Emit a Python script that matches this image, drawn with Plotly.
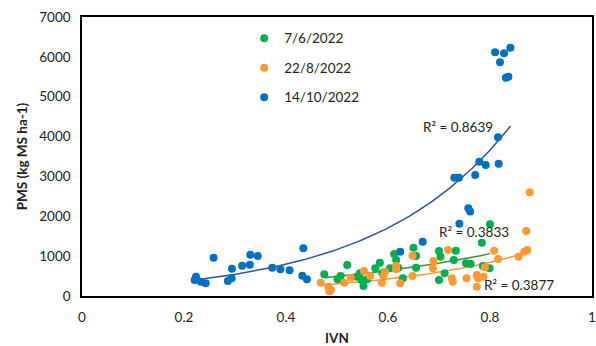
import numpy as np
import plotly.graph_objects as go

# ---- data ----
green_x = [0.475, 0.501, 0.507, 0.520, 0.539, 0.545, 0.548, 0.552, 0.559, 0.575, 0.584, 0.589,
           0.604, 0.612, 0.616, 0.620, 0.629, 0.650, 0.655, 0.655, 0.700, 0.703, 0.711, 0.700,
           0.733, 0.729, 0.753, 0.762, 0.786, 0.799, 0.784, 0.800]
green_y = [544, 419, 502, 780, 480, 570, 400, 250, 420, 695, 835, 570,
           695, 1054, 903, 710, 443, 1212, 1004, 710, 1129, 985, 570, 400,
           1137, 903, 820, 803, 753, 695, 1337, 1799]

orange_x = [0.468, 0.483, 0.488, 0.485, 0.514, 0.527, 0.553, 0.565, 0.588, 0.594, 0.591, 0.616,
            0.616, 0.624, 0.648, 0.648, 0.689, 0.688, 0.718, 0.725, 0.727, 0.754, 0.774, 0.777,
            0.774, 0.787, 0.790, 0.808, 0.816, 0.856, 0.867, 0.873, 0.871, 0.878]
orange_y = [334, 233, 150, 120, 334, 459, 627, 502, 334, 610, 502, 760,
            670, 319, 1011, 502, 878, 695, 1154, 444, 359, 444, 527, 444,
            233, 484, 720, 1137, 928, 986, 1111, 1154, 1631, 2602]

blue_x = [0.221, 0.2235, 0.233, 0.2425, 0.258, 0.286, 0.2935, 0.294, 0.314, 0.329, 0.330, 0.3445,
          0.373, 0.389, 0.407, 0.434, 0.432, 0.441, 0.624, 0.668, 0.740, 0.7575, 0.761, 0.730,
          0.739, 0.771, 0.779, 0.7916, 0.817, 0.8157, 0.810, 0.8275, 0.840, 0.8196, 0.831, 0.836]
blue_y = [401, 484, 359, 318, 961, 376, 444, 685, 760, 785, 1036, 1003,
          710, 670, 645, 1197, 509, 419, 1112, 1358, 1810, 2200, 2120, 2968,
          2968, 3036, 3370, 3287, 3320, 3981, 6114, 6088, 6230, 5863, 5477, 5503]

series_names = ["7/6/2022", "22/8/2022", "14/10/2022"]
r2_labels = ["R² = 0.3833", "R² = 0.3877", "R² = 0.8639"]
x_ticks = [0, 0.2, 0.4, 0.6, 0.8, 1]
x_tick_labels = ["0", "0.2", "0.4", "0.6", "0.8", "1"]
y_ticks = [0, 1000, 2000, 3000, 4000, 5000, 6000, 7000]

FONT = "Lato, 'Liberation Sans', sans-serif"
colors = ["#00B050", "#FF9933", "#0070C0"]
line_colors = ["#4E8A30", "#FF9933", "#2F52A0"]
# label anchor positions (data coords)
r2_pos = [(0.769, 1606), (0.857, 276), (0.738, 4240)]

fig = go.Figure()
series = [(green_x, green_y), (orange_x, orange_y), (blue_x, blue_y)]

# trendlines (Excel-style exponential fit)
for i, (xs, ys) in enumerate(series):
    xa = np.array(xs)
    ya = np.array(ys)
    b, lna = np.polyfit(xa, np.log(ya), 1)
    xx = np.linspace(xa.min(), xa.max(), 120)
    fig.add_trace(go.Scatter(x=xx, y=np.exp(lna) * np.exp(b * xx), mode="lines",
                             line=dict(color=line_colors[i], width=1.5),
                             showlegend=False, hoverinfo="skip"))

for i, (xs, ys) in enumerate(series):
    fig.add_trace(go.Scatter(x=xs, y=ys, mode="markers", name=series_names[i],
                             legendgroup=series_names[i],
                             marker=dict(color=colors[i], size=8)))

for i, (px, py) in enumerate(r2_pos):
    fig.add_annotation(x=px, y=py, text=r2_labels[i], showarrow=False,
                       font=dict(family=FONT, size=13.5, color="#222222"))

axis_common = dict(showline=True, linecolor="black", linewidth=1.5, mirror=True,
                   showgrid=False, zeroline=False, ticks="", automargin=False,
                   tickfont=dict(family=FONT, size=13.5, color="#222222"))

fig.update_layout(
    width=596, height=346,
    margin=dict(l=82, r=4, t=17, b=50),
    paper_bgcolor="white", plot_bgcolor="white",
    font=dict(family=FONT, size=13, color="#222222"),
    xaxis=dict(range=[0, 1], tickvals=x_ticks, ticktext=x_tick_labels,
               ticklabelstandoff=8,
               title=dict(text="<b>IVN</b>", standoff=10,
                          font=dict(family=FONT, size=13.5, color="#222222")),
               **axis_common),
    yaxis=dict(range=[0, 7000], tickvals=y_ticks, ticklabelstandoff=7,
               title=dict(text="<b>PMS (kg MS ha-1)</b>", standoff=8,
                          font=dict(family=FONT, size=13.5, color="#222222")),
               **axis_common),
    legend=dict(x=0.318, y=0.979, xanchor="left", yanchor="top",
                bgcolor="rgba(0,0,0,0)", tracegroupgap=9,
                font=dict(family=FONT, size=13.5, color="#222222")),
)

fig.write_html("out.html", config={"displayModeBar": False},
               post_script="document.body.style.margin='0';document.body.style.overflow='hidden';")
